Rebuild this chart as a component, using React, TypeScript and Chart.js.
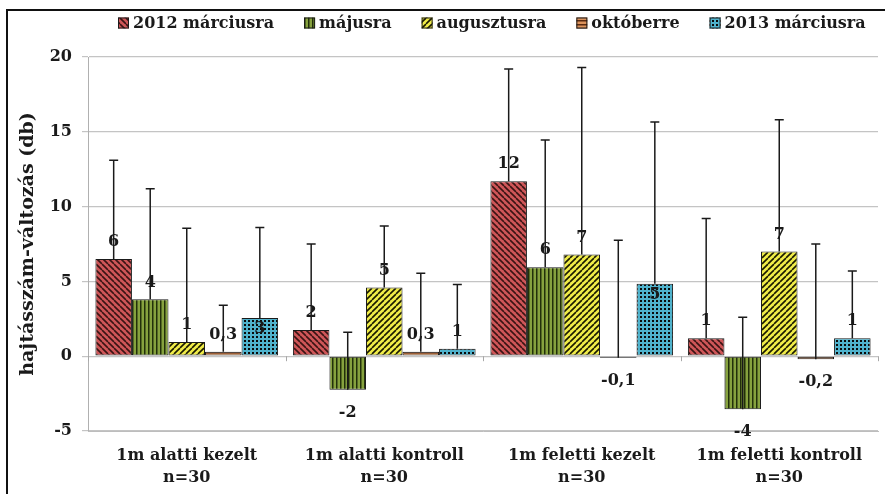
import React, { useEffect, useRef } from "react";
import { Chart, registerables } from "chart.js";

Chart.register(...registerables);

// ---- data ----
const categories: string[][] = [
  ["1m alatti kezelt", "n=30"],
  ["1m alatti kontroll", "n=30"],
  ["1m feletti kezelt", "n=30"],
  ["1m feletti kontroll", "n=30"],
];
const seriesNames = ["2012 márciusra", "májusra", "augusztusra", "októberre", "2013 márciusra"];

const marc2012 = [6.5, 1.75, 11.7, 1.2];
const majus = [3.8, -2.25, 5.95, -3.55];
const augusztus = [0.95, 4.6, 6.8, 7.0];
const oktober = [0.3, 0.3, -0.1, -0.2];
const marc2013 = [2.55, 0.5, 4.85, 1.2];

const errMarc2012 = [6.6, 5.75, 7.5, 8.0];
const errMajus = [7.4, 3.85, 8.5, 6.15];
const errAugusztus = [7.6, 4.1, 12.5, 8.8];
const errOktober = [3.1, 5.25, 7.85, 7.7];
const errMarc2013 = [6.05, 4.3, 10.8, 4.5];

const lblMarc2012 = ["6", "2", "12", "1"];
const lblMajus = ["4", "-2", "6", "-4"];
const lblAugusztus = ["1", "5", "7", "7"];
const lblOktober = ["0,3", "0,3", "-0,1", "-0,2"];
const lblMarc2013 = ["3", "1", "5", "1"];

const yTitle = "hajtásszám-változás (db)";
const yMin = -5;
const yMax = 20;
const yStep = 5;

const FONT = "'DejaVu Serif', 'Liberation Serif', serif";
const FS = 16;

type PatKind = "back" | "vert" | "fwd" | "horiz" | "dots";

function makePattern(bg: string, fg: string, kind: PatKind): CanvasPattern | string {
  const s = kind === "vert" || kind === "horiz" || kind === "dots" ? 4 : 6;
  const c = document.createElement("canvas");
  c.width = s;
  c.height = s;
  const ctx = c.getContext("2d");
  if (!ctx) return bg;
  ctx.fillStyle = bg;
  ctx.fillRect(0, 0, s, s);
  ctx.strokeStyle = fg;
  ctx.fillStyle = fg;
  if (kind === "back" || kind === "fwd") {
    ctx.lineWidth = 1.6;
    ctx.beginPath();
    for (const k of [-s, 0, s]) {
      if (kind === "back") {
        ctx.moveTo(k, 0);
        ctx.lineTo(k + s, s);
      } else {
        ctx.moveTo(k + s, 0);
        ctx.lineTo(k, s);
      }
    }
    ctx.stroke();
  } else if (kind === "vert") {
    ctx.fillRect(0, 0, 1.5, s);
  } else if (kind === "horiz") {
    ctx.fillRect(0, 0, s, 1.5);
  } else {
    ctx.fillRect(0, 0, 2, 2);
  }
  return ctx.createPattern(c, "repeat") || bg;
}

const zeroTicksPlugin = {
  id: "zeroTicks",
  beforeDatasetsDraw(chart: any) {
    const ctx = chart.ctx as CanvasRenderingContext2D;
    const xs = chart.scales.x;
    const y0 = chart.scales.y.getPixelForValue(0);
    const n = chart.data.labels.length;
    ctx.save();
    ctx.strokeStyle = "#a8a8a8";
    ctx.lineWidth = 1;
    ctx.beginPath();
    for (let i = 0; i <= n; i++) {
      const x = Math.round(xs.getPixelForValue(i - 0.5)) + 0.5;
      ctx.moveTo(x, y0);
      ctx.lineTo(x, y0 + 5);
    }
    ctx.stroke();
    ctx.restore();
  },
};

const barDecorPlugin = {
  id: "barDecor",
  afterDatasetsDraw(chart: any) {
    const ctx = chart.ctx as CanvasRenderingContext2D;
    const yScale = chart.scales.y;
    chart.data.datasets.forEach((ds: any, di: number) => {
      const meta = chart.getDatasetMeta(di);
      if (meta.hidden) return;
      meta.data.forEach((bar: any, i: number) => {
        const v = ds.data[i] as number;
        const yv = yScale.getPixelForValue(v);
        const y0 = yScale.getPixelForValue(0);
        const txt = ds.valueLabels[i];
        ctx.save();
        ctx.font = `bold ${FS}px ${FONT}`;
        ctx.fillStyle = "#1a1a1a";
        ctx.textAlign = "center";
        ctx.textBaseline = "middle";
        let ty: number;
        if (v < 0) {
          ty = yv + 23;
        } else if (ds.labelInsideTall && y0 - yv > 30) {
          ty = yv + 11;
        } else {
          ty = yv - 17;
        }
        ctx.fillText(txt, bar.x, ty);
        ctx.restore();
      });
    });
    chart.data.datasets.forEach((ds: any, di: number) => {
      const meta = chart.getDatasetMeta(di);
      if (meta.hidden) return;
      meta.data.forEach((bar: any, i: number) => {
        const v = ds.data[i] as number;
        const e = ds.errorPlus[i] as number;
        const yA = yScale.getPixelForValue(v);
        const yB = yScale.getPixelForValue(v + e);
        ctx.save();
        ctx.strokeStyle = "#1a1a1a";
        ctx.lineWidth = 1.5;
        ctx.beginPath();
        ctx.moveTo(bar.x, yA);
        ctx.lineTo(bar.x, yB);
        ctx.moveTo(bar.x - 4.5, yB);
        ctx.lineTo(bar.x + 4.5, yB);
        ctx.stroke();
        ctx.restore();
      });
    });
  },
};

const topLegendPlugin = {
  id: "topLegend",
  afterDraw(chart: any) {
    const ctx = chart.ctx as CanvasRenderingContext2D;
    const startX = 118;
    const cy = 23;
    const box = 11;
    const gapText = 4;
    const gapItem = 30;
    ctx.save();
    ctx.font = `bold ${FS}px ${FONT}`;
    ctx.textBaseline = "middle";
    ctx.textAlign = "left";
    let x = startX;
    chart.data.datasets.forEach((ds: any) => {
      ctx.fillStyle = ds.backgroundColor;
      ctx.fillRect(x, cy - box / 2, box, box);
      ctx.strokeStyle = "#1a1a1a";
      ctx.lineWidth = 1;
      ctx.strokeRect(x + 0.5, cy - box / 2 + 0.5, box - 1, box - 1);
      ctx.fillStyle = "#1a1a1a";
      ctx.fillText(ds.label, x + box + gapText, cy + 1);
      x += box + gapText + ctx.measureText(ds.label).width + gapItem;
    });
    ctx.restore();
  },
};

export default function App() {
  const ref = useRef<HTMLCanvasElement>(null);

  useEffect(() => {
    if (!ref.current) return;
    const pats = [
      makePattern("#cf5658", "#3a1414", "back"),
      makePattern("#86a23e", "#22300a", "vert"),
      makePattern("#f0ec48", "#1a1a00", "fwd"),
      makePattern("#dc935c", "#5a2a10", "horiz"),
      makePattern("#4fb2cc", "#0a0a0a", "dots"),
    ];
    const vals = [marc2012, majus, augusztus, oktober, marc2013];
    const errs = [errMarc2012, errMajus, errAugusztus, errOktober, errMarc2013];
    const lbls = [lblMarc2012, lblMajus, lblAugusztus, lblOktober, lblMarc2013];

    const chart = new Chart(ref.current, {
      type: "bar",
      data: {
        labels: categories,
        datasets: seriesNames.map((name, k) => ({
          label: name,
          data: vals[k],
          errorPlus: errs[k],
          valueLabels: lbls[k],
          labelInsideTall: k === 4,
          backgroundColor: pats[k],
          borderColor: "#1a1a1a",
          borderWidth: 1,
          borderSkipped: false,
          categoryPercentage: 0.925,
          barPercentage: 1,
        })) as any,
      },
      options: {
        responsive: false,
        animation: false,
        layout: { padding: { left: 0, right: 7, top: 57, bottom: 0 } },
        plugins: {
          legend: { display: false },
          tooltip: { enabled: false },
        },
        scales: {
          x: {
            grid: { display: false, drawTicks: false },
            border: { display: true, color: "#bdbdbd" },
            ticks: {
              color: "#1a1a1a",
              padding: 14,
              font: { family: FONT, size: FS, weight: "bold", lineHeight: 1.35 },
              maxRotation: 0,
            },
            afterFit(scale: any) {
              scale.height = 63;
            },
          },
          y: {
            min: yMin,
            max: yMax,
            grid: { color: "#c4c4c4", lineWidth: 1.2, tickLength: 6 },
            border: { display: true, color: "#b0b0b0" },
            ticks: {
              stepSize: yStep,
              color: "#1a1a1a",
              padding: 10,
              font: { family: FONT, size: FS, weight: "bold" },
            },
            title: {
              display: true,
              text: yTitle,
              color: "#1a1a1a",
              font: { family: FONT, size: 19, weight: "bold" },
              padding: { top: 17, bottom: 0 },
            },
            afterFit(scale: any) {
              scale.width = 88;
            },
          },
        },
      },
      plugins: [zeroTicksPlugin, barDecorPlugin, topLegendPlugin],
    });
    return () => chart.destroy();
  }, []);

  return (
    <div style={{ position: "absolute", left: 0, top: 0, width: 885, height: 494, background: "#fff" }}>
      <div
        style={{
          position: "absolute",
          left: 6,
          top: 9,
          right: 0,
          bottom: 0,
          borderLeft: "2px solid #111",
          borderTop: "2px solid #111",
        }}
      />
      <canvas ref={ref} width={885} height={494} style={{ position: "absolute", left: 0, top: 0 }} />
    </div>
  );
}
